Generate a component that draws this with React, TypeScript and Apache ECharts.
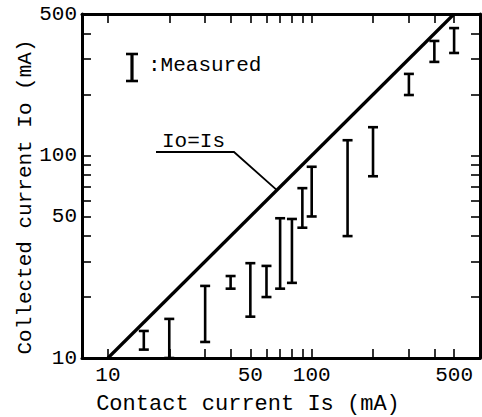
import React, { useEffect, useRef } from "react";
import * as echarts from "echarts";

// ---- data (mA) ----
const contactCurrent = [15, 20, 30, 40, 50, 60, 70, 80, 90, 100, 150, 200, 300, 400, 500];
const collectedLow = [11, 10, 12, 22, 16, 20, 22, 23.5, 44, 50, 40, 79, 199, 290, 321];
const collectedHigh = [13.6, 15.6, 22.7, 25.4, 29.4, 28.5, 49, 48.6, 69, 88, 119, 138, 253, 368, 426];
const idealLine = [10, 500];
const xTickValues = [10, 20, 30, 40, 50, 60, 70, 80, 90, 100, 200, 300, 400, 500];
const yTickValues = [20, 30, 40, 50, 60, 70, 80, 90, 100, 200, 300, 400];
const xLabelValues = [10, 50, 100, 500];
const yLabelValues = [10, 50, 100, 500];
const xRange = [7.46, 670];
const yRange = [10, 500];
const leaderAt = 67.5;

const lg = (v: number) => Math.log10(v);
const FONT = "Liberation Mono";

export default function App() {
  const ref = useRef<HTMLDivElement>(null);
  useEffect(() => {
    if (!ref.current) return;
    const chart = echarts.init(ref.current, null, { renderer: "svg" });
    const fmt = (v: number) => String(Math.round(Math.pow(10, v)));
    const tickStyle = { color: "#000", width: 1.6 };
    const axisLine = { show: true, lineStyle: { color: "#000", width: 3 } };
    const barData = contactCurrent.map((x, i) => [lg(x), lg(collectedLow[i]), lg(collectedHigh[i])]);
    chart.setOption({
      animation: false,
      backgroundColor: "#fff",
      grid: { left: 82, top: 14, width: 398, height: 344 },
      xAxis: [
        {
          type: "value",
          min: lg(xRange[0]),
          max: lg(xRange[1]),
          position: "bottom",
          axisLine,
          splitLine: { show: false },
          axisTick: { show: true, inside: true, length: 9, lineStyle: tickStyle, customValues: xTickValues.map(lg) },
          axisLabel: {
            show: true,
            customValues: xLabelValues.map(lg),
            formatter: fmt,
            margin: 7,
            color: "#000",
            fontFamily: FONT,
            fontSize: 21,
          },
        },
        {
          type: "value",
          min: lg(xRange[0]),
          max: lg(xRange[1]),
          position: "top",
          axisLine,
          splitLine: { show: false },
          axisTick: { show: true, inside: true, length: 9, lineStyle: tickStyle, customValues: xTickValues.map(lg) },
          axisLabel: { show: false },
        },
      ],
      yAxis: [
        {
          type: "value",
          min: lg(yRange[0]),
          max: lg(yRange[1]),
          position: "left",
          axisLine,
          splitLine: { show: false },
          axisTick: { show: true, inside: true, length: 9, lineStyle: tickStyle, customValues: yTickValues.map(lg) },
          axisLabel: {
            show: true,
            customValues: yLabelValues.map(lg),
            formatter: fmt,
            margin: 5,
            color: "#000",
            fontFamily: FONT,
            fontSize: 21,
          },
        },
        {
          type: "value",
          min: lg(yRange[0]),
          max: lg(yRange[1]),
          position: "right",
          axisLine,
          splitLine: { show: false },
          axisTick: { show: true, inside: true, length: 9, lineStyle: tickStyle, customValues: yTickValues.map(lg) },
          axisLabel: { show: false },
        },
      ],
      series: [
        {
          name: "Io=Is",
          type: "line",
          xAxisIndex: 0,
          yAxisIndex: 0,
          data: idealLine.map((v) => [lg(v), lg(v)]),
          showSymbol: false,
          symbol: "none",
          lineStyle: { color: "#000", width: 3.2 },
          silent: true,
        },
        {
          name: "Measured",
          type: "custom",
          xAxisIndex: 0,
          yAxisIndex: 0,
          data: barData,
          renderItem: (params: any, api: any) => {
            const x = api.value(0);
            const p1 = api.coord([x, api.value(1)]);
            const p2 = api.coord([x, api.value(2)]);
            const hw = 5;
            const style = { stroke: "#000", lineWidth: 2.6 };
            return {
              type: "group",
              children: [
                { type: "line", shape: { x1: p1[0], y1: p1[1], x2: p2[0], y2: p2[1] }, style },
                { type: "line", shape: { x1: p1[0] - hw, y1: p1[1], x2: p1[0] + hw, y2: p1[1] }, style },
                { type: "line", shape: { x1: p2[0] - hw, y1: p2[1], x2: p2[0] + hw, y2: p2[1] }, style },
              ],
            };
          },
        },
      ],
    });
    const end = chart.convertToPixel({ seriesIndex: 0 }, [lg(leaderAt), lg(leaderAt)]) as number[];
    chart.setOption({
      graphic: [
        {
          type: "text",
          style: {
            text: "Contact current Is (mA)",
            x: 248,
            y: 404,
            align: "center",
            verticalAlign: "middle",
            fill: "#000",
            font: `22px "${FONT}"`,
          },
        },
        {
          type: "text",
          rotation: Math.PI / 2,
          x: 25,
          y: 197,
          style: {
            text: "Collected current Io (mA)",
            x: 0,
            y: 0,
            align: "center",
            verticalAlign: "middle",
            fill: "#000",
            font: `21px "${FONT}"`,
          },
        },
        {
          type: "group",
          children: [
            { type: "line", shape: { x1: 132, y1: 54, x2: 132, y2: 81 }, style: { stroke: "#000", lineWidth: 3.2 } },
            { type: "line", shape: { x1: 126, y1: 54, x2: 138, y2: 54 }, style: { stroke: "#000", lineWidth: 2.6 } },
            { type: "line", shape: { x1: 126, y1: 81, x2: 138, y2: 81 }, style: { stroke: "#000", lineWidth: 2.6 } },
          ],
        },
        {
          type: "text",
          style: {
            text: ":Measured",
            x: 148,
            y: 65,
            align: "left",
            verticalAlign: "middle",
            fill: "#000",
            font: `21px "${FONT}"`,
          },
        },
        {
          type: "text",
          style: {
            text: "Io=Is",
            x: 162,
            y: 141,
            align: "left",
            verticalAlign: "middle",
            fill: "#000",
            font: `21px "${FONT}"`,
          },
        },
        {
          type: "polyline",
          shape: { points: [[156, 152], [234, 152], [end[0], end[1]]] },
          style: { stroke: "#000", lineWidth: 1.8, fill: "none" },
        },
      ],
    });
    return () => chart.dispose();
  }, []);
  return (
    <div
      ref={ref}
      style={{ position: "absolute", left: 0, top: 0, width: 482, height: 417, background: "#fff" }}
    />
  );
}
